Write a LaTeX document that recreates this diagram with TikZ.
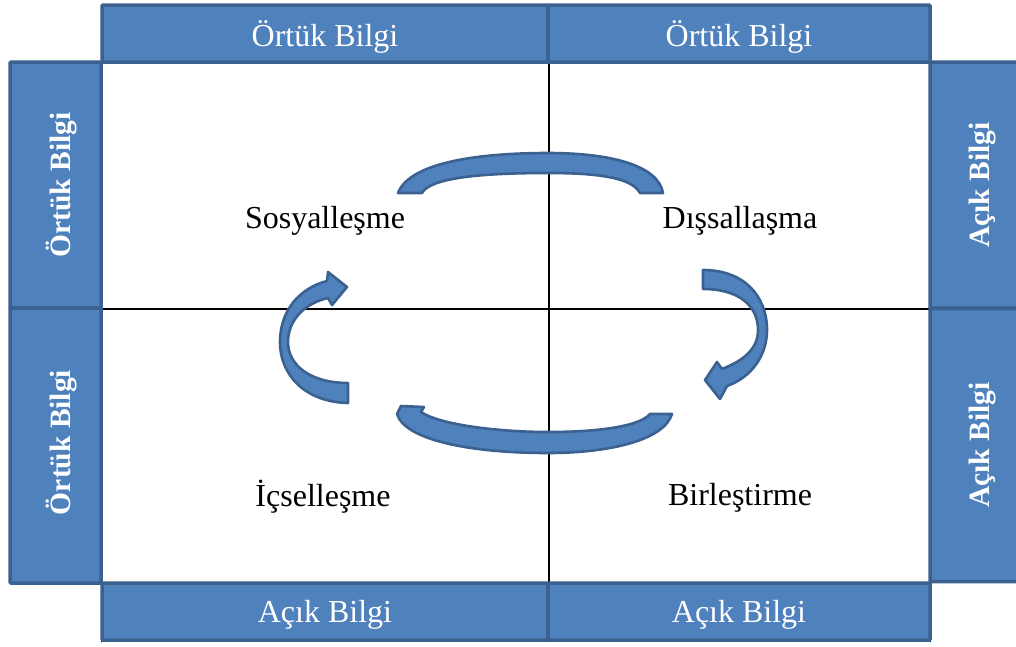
\documentclass[tikz,border=0pt]{standalone}
\usepackage{fontspec}
\setmainfont{Liberation Serif}
\definecolor{boxfill}{HTML}{4F81BD}
\definecolor{boxline}{HTML}{3A6190}
\begin{document}
\begin{tikzpicture}[x=1pt,y=-1pt,
  panel/.style={draw=boxline, fill=boxfill, line width=3.5pt, rounded corners=1pt, inner sep=0pt},
  paneltext/.style={text=white, inner sep=0pt, font=\fontsize{32}{36}\selectfont},
  sidetext/.style={text=white, inner sep=0pt, rotate=90, font=\fontsize{29.5}{34}\selectfont\bfseries},
  phase/.style={inner sep=0pt, font=\fontsize{32}{36}\selectfont},
  grid/.style={draw=black, line width=1.8pt},
  cyc/.style={draw=boxline, fill=boxfill, line width=2.6pt, line join=round}]

\useasboundingbox[fill=white] (0,0) rectangle (1016,646);
\clip (0,0) rectangle (1016,646);

% quadrant dividers
\coordinate (vtop) at (549,62);
\coordinate (vbot) at (549,583);
\coordinate (hleft) at (102,309);
\coordinate (hright) at (930,309);
\draw[grid] (vtop) -- (vbot);
\draw[grid] (hleft) -- (hright);

% rule under the bottom row
\coordinate (rl) at (101,641.5);
\coordinate (rr) at (931,641.5);
\draw[line width=1.2pt] (rl) -- (rr);

% header and footer panels
\node[panel, minimum width=446pt, minimum height=57pt] (t1) at (325,33.5) {};
\node[panel, minimum width=382pt, minimum height=57pt] (t2) at (739,33.5) {};
\node[panel, minimum width=446pt, minimum height=57pt] (b1) at (325,611.5) {};
\node[panel, minimum width=382pt, minimum height=57pt] (b2) at (739,611.5) {};

% side panels
\node[panel, minimum width=91pt, minimum height=246pt] (l1) at (55.5,185) {};
\node[panel, minimum width=91pt, minimum height=275pt] (l2) at (55.5,445.5) {};
\node[panel, minimum width=96pt, minimum height=246pt] (r1) at (978,185) {};
\node[panel, minimum width=96pt, minimum height=273pt] (r2) at (978,445) {};

% panel captions
\node[paneltext] (t1x) at ([yshift=-3pt]t1.center) {Örtük Bilgi};
\node[paneltext] (t2x) at ([yshift=-3pt]t2.center) {Örtük Bilgi};
\node[paneltext] (b1x) at ([yshift=-3pt]b1.center) {Açık Bilgi};
\node[paneltext] (b2x) at ([yshift=-3pt]b2.center) {Açık Bilgi};
\node[sidetext] (l1x) at ([xshift=6pt]l1.center) {Örtük Bilgi};
\node[sidetext] (l2x) at ([xshift=6pt,yshift=3pt]l2.center) {Örtük Bilgi};
\node[sidetext] (r1x) at ([xshift=5pt]r1.center) {Açık Bilgi};
\node[sidetext] (r2x) at ([xshift=5pt]r2.center) {Açık Bilgi};

% curved arrows of the knowledge cycle
% top: Sosyalleşme -> Dışsallaşma
\path[cyc] (398,193) .. controls (410,162) and (480,153) .. (548,153)
  .. controls (610,153) and (658,165) .. (663,193) -- (640,193)
  .. controls (632,178) and (600,173) .. (548,173)
  .. controls (480,173) and (430,178) .. (422,193) -- cycle;
% right: Dışsallaşma -> Birleştirme
\path[cyc] (703,270) .. controls (745,270) and (767,297) .. (767,330)
  .. controls (767,355) and (752,377) .. (727,386) -- (720,399) -- (705,380)
  -- (717,362) -- (722,369)
  .. controls (745,360) and (758,348) .. (758,330)
  .. controls (758,305) and (738,289) .. (703,289) -- cycle;
% bottom: Birleştirme -> İçselleşme
\path[cyc] (397,414) -- (401,406) -- (424,407) -- (421,412)
  .. controls (440,425) and (500,432) .. (548,432)
  .. controls (600,432) and (640,426) .. (650,414) -- (672,414)
  .. controls (664,440) and (610,453) .. (548,453)
  .. controls (470,453) and (405,440) .. (397,414) -- cycle;
% left: İçselleşme -> Sosyalleşme
\path[cyc] (348,403) .. controls (305,402) and (280,375) .. (280,342)
  .. controls (280,310) and (300,288) .. (327,281) -- (328,272) -- (347,287)
  -- (332,305) -- (328,298)
  .. controls (305,303) and (288,320) .. (288,342)
  .. controls (288,365) and (310,383) .. (348,383) -- cycle;

% quadrant labels
\node[phase] (sos) at (325,221) {Sosyalleşme};
\node[phase] (dis) at (740,221) {Dışsallaşma};
\node[phase] (ics) at (323,497) {İçselleşme};
\node[phase] (bir) at (740,498) {Birleştirme};
\end{tikzpicture}
\end{document}
